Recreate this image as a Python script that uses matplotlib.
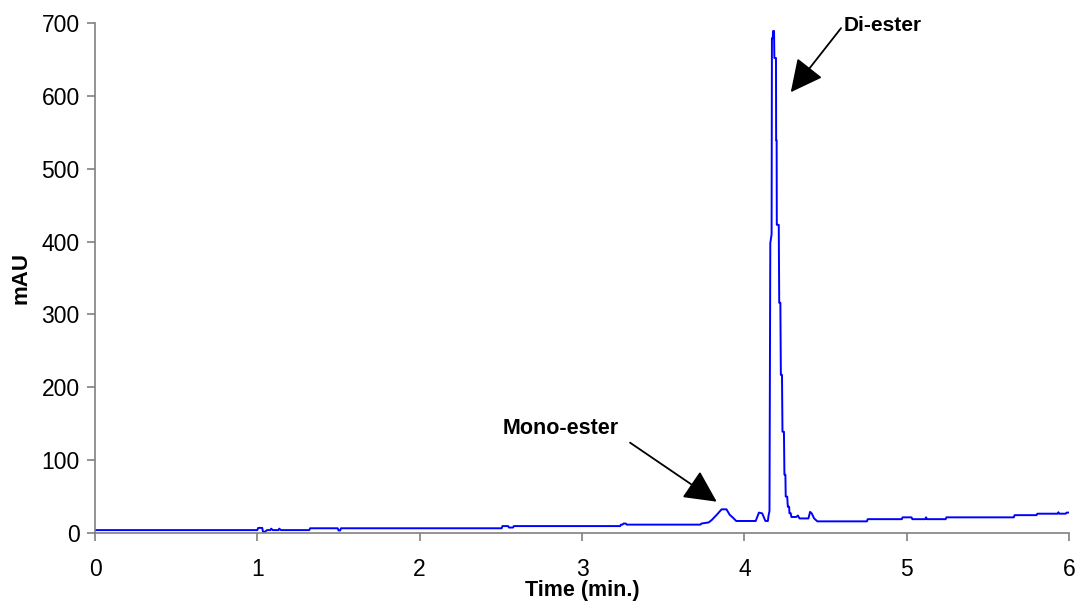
import matplotlib
matplotlib.use("Agg")
import matplotlib.pyplot as plt

# Chromatogram trace (time in min, absorbance in mAU)
time_min = [0.00, 1.000, 1.005, 1.030, 1.035, 1.045, 1.060, 1.080, 1.085, 1.095, 1.130, 1.135, 1.145,
            1.320, 1.325, 1.495, 1.500, 1.510, 1.515,
            2.505, 2.510, 2.545, 2.550, 2.575, 2.580,
            3.235, 3.240, 3.250, 3.255, 3.270, 3.275,
            3.730, 3.735, 3.780, 3.800, 3.830, 3.860, 3.890, 3.910, 3.930, 3.950,
            4.070, 4.090, 4.110, 4.130, 4.145, 4.150, 4.155,
            4.160, 4.168, 4.170, 4.175, 4.177, 4.183, 4.185, 4.195, 4.196, 4.199,
            4.200, 4.212, 4.215, 4.222, 4.225, 4.232, 4.235, 4.244, 4.247, 4.253,
            4.255, 4.264, 4.268, 4.276, 4.278, 4.286, 4.290, 4.320, 4.330, 4.340,
            4.370, 4.395, 4.405, 4.415, 4.430, 4.450,
            4.755, 4.760, 4.970, 4.975, 5.030, 5.035, 5.115, 5.120, 5.125,
            5.240, 5.245, 5.660, 5.665, 5.800, 5.805, 5.930, 5.935, 5.940,
            5.980, 5.985, 6.000]
absorbance = [4.0, 4.0, 7.0, 7.0, 1.5, 1.5, 4.0, 4.0, 6.0, 4.0, 4.0, 6.0, 4.0,
              4.0, 6.5, 6.5, 3.5, 3.5, 6.5,
              6.5, 9.5, 9.5, 7.5, 7.5, 9.5,
              9.5, 11.5, 11.5, 13.0, 13.0, 11.5,
              11.5, 13.0, 14.5, 18.0, 25.0, 32.5, 32.5, 25.0, 21.0, 16.5,
              16.5, 28.0, 27.0, 16.5, 16.5, 25.0, 30.0,
              398.0, 410.0, 679.0, 679.0, 689.0, 689.0, 652.0, 652.0, 539.0, 539.0,
              423.0, 423.0, 316.0, 316.0, 217.0, 217.0, 139.0, 139.0, 80.0, 80.0,
              50.0, 50.0, 36.0, 36.0, 27.0, 27.0, 22.0, 22.0, 24.0, 20.0,
              20.0, 20.0, 29.0, 27.0, 20.0, 16.0,
              16.0, 19.0, 19.0, 21.5, 21.5, 19.0, 19.0, 21.5, 19.0,
              19.0, 21.5, 21.5, 24.5, 24.5, 26.5, 26.5, 28.5, 26.5,
              26.5, 28.0, 28.0]

x_ticks = [0, 1, 2, 3, 4, 5, 6]
y_ticks = [0, 100, 200, 300, 400, 500, 600, 700]

plt.rcParams['font.family'] = ['Liberation Sans', 'DejaVu Sans']

fig = plt.figure(figsize=(10.75, 6.02), dpi=100)
ax = fig.add_axes([0.0884, 0.1146, 0.9060, 0.8472])

ax.plot(time_min, absorbance, color='#0000FF', lw=1.4)

ax.set_xlim(0, 6)
ax.set_ylim(0, 700)
ax.set_xticks(x_ticks)
ax.set_yticks(y_ticks)

for side in ('top', 'right'):
    ax.spines[side].set_visible(False)
for side in ('left', 'bottom'):
    ax.spines[side].set_color('#808080')
    ax.spines[side].set_linewidth(1.2)
ax.tick_params(axis='both', colors='#808080', labelcolor='black', length=6, width=1.2,
               labelsize=16.5, direction='out')
ax.tick_params(axis='x', pad=12)
ax.tick_params(axis='y', pad=5)

ax.set_xlabel('Time (min.)', fontsize=15.5, fontweight='bold', labelpad=-1)
ax.set_ylabel('mAU', fontsize=16, fontweight='bold', labelpad=7)

# Annotations
ax.text(4.61, 697, 'Di-ester', fontsize=15, fontweight='bold', ha='left', va='center', clip_on=False)
ax.annotate('', xy=(4.286, 605), xytext=(4.596, 693),
            arrowprops=dict(arrowstyle='-|>,head_length=0.8,head_width=0.4', color='black',
                            lw=1.3, mutation_scale=25, shrinkA=0, shrinkB=0))

ax.text(2.51, 144, 'Mono-ester', fontsize=15.5, fontweight='bold', ha='left', va='center')
ax.annotate('', xy=(3.83, 43), xytext=(3.296, 124),
            arrowprops=dict(arrowstyle='-|>,head_length=0.8,head_width=0.4', color='black',
                            lw=1.3, mutation_scale=25, shrinkA=0, shrinkB=0))

fig.savefig('out.png', dpi=100)
